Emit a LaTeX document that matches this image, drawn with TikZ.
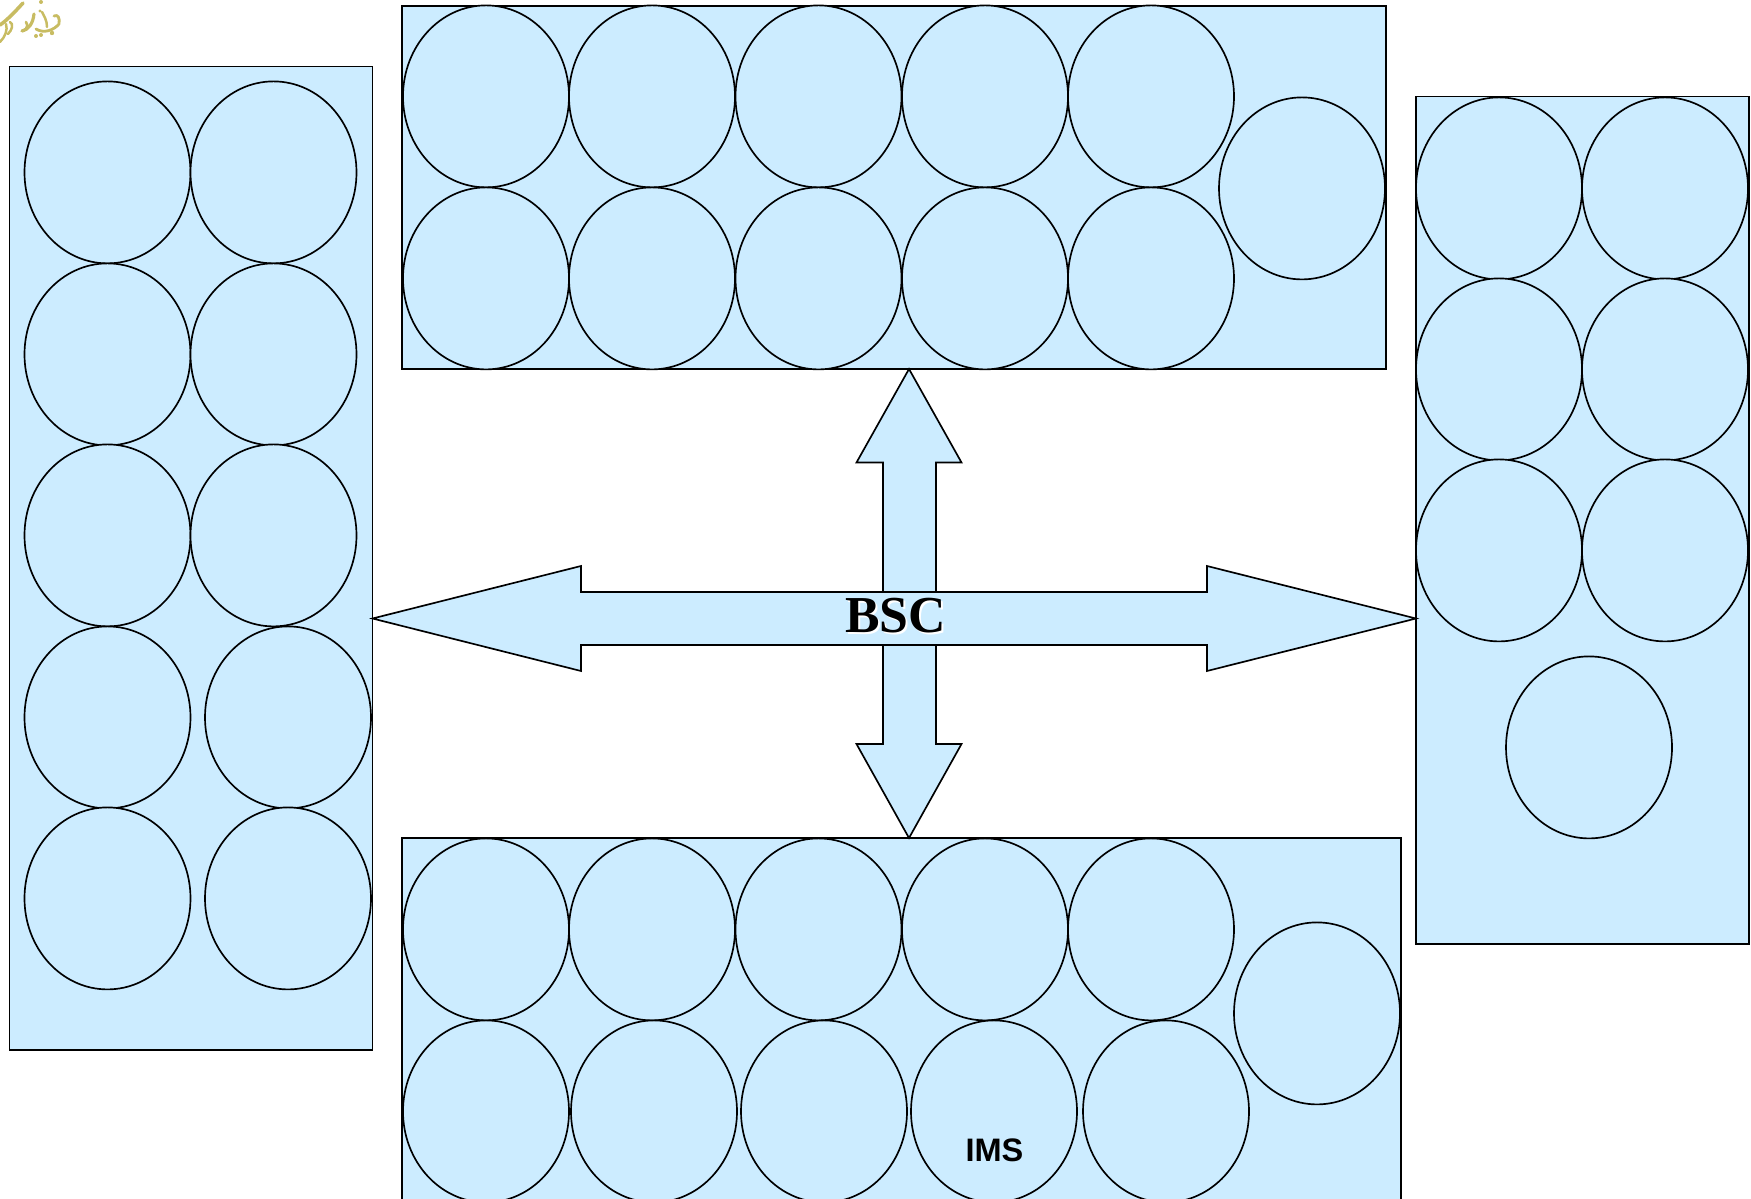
\documentclass[tikz,border=0pt]{standalone}
\usepackage{fontspec}
\setmainfont{Liberation Serif}
\setsansfont{Liberation Sans}
\usetikzlibrary{shapes.geometric}
\definecolor{panelblue}{HTML}{CCECFF}
\definecolor{logogold}{HTML}{C8BC62}
\tikzset{
  x=0.02cm,y=-0.02cm,
  outline/.style={draw=black,line width=0.95pt,line join=miter},
  panel/.style={outline,fill=panelblue},
  cell/.style={ellipse,outline,fill=panelblue,minimum width=166*0.02cm,minimum height=182*0.02cm,inner sep=0pt,outer sep=0pt,yshift=-0.008cm},
  logostroke/.style={draw=logogold,line width=1.1pt,line cap=round,line join=round}
}
\begin{document}
\begin{tikzpicture}
\clip (0,0) rectangle (1751,1199);
\fill[white] (0,0) rectangle (1751,1199);
% logo
\draw[logostroke,line width=2pt] (0,25) .. controls (6,21) and (14,13) .. (23,3);
\draw[logostroke,line width=1.4pt] (0,42) .. controls (5,37) and (8,30) .. (6,24);
\draw[logostroke,line width=1.4pt] (10,22) .. controls (14,24) and (12,30) .. (8,34);
\draw[logostroke,line width=1.8pt] (22,31) .. controls (28,30) and (33,24) .. (34,14);
\draw[logostroke,line width=1.5pt] (26,22) .. controls (30,26) and (24,32) .. (22,31);
\draw[logostroke,line width=1.6pt] (36,29) .. controls (44,34) and (54,30) .. (59,24) .. controls (60,18) and (58,14) .. (54,16);
\draw[logostroke,line width=1.4pt] (47,27) .. controls (47,20) and (44,16) .. (42,12);
\fill[logogold] (36,36) circle (2) (41,35) circle (2) (52,33) circle (2.2) (41,2) circle (2) (40,11) circle (1.6);
% left panel
\draw[panel] (9.5,66.5) rectangle (372.5,1050);
\foreach \n/\px/\py in {la/107.5/172,lb/273.5/172,lc/107.5/354,ld/273.5/354,le/107.5/535,lf/273.5/535,lg/107.5/717,lh/288/717,li/107.5/898,lj/288/898}
  \node[cell] (\n) at (\px,\py) {};
% top panel
\draw[panel] (402,6) rectangle (1386,369);
\foreach \n/\px/\py in {ta/486/96,tb/652/96,tc/818.5/96,td/985/96,te/1151/96,tf/486/278,tg/652/278,th/818.5/278,ti/985/278,tj/1151/278,tk/1302/188}
  \node[cell] (\n) at (\px,\py) {};
% right panel
\draw[panel] (1416,96.5) rectangle (1749,944);
\foreach \n/\px/\py in {ra/1499/188,rb/1665/188,rc/1499/369,rd/1665/369,re/1499/550,rf/1665/550,rg/1589/747}
  \node[cell] (\n) at (\px,\py) {};
% bottom panel
\draw[panel] (402,838) rectangle (1400.8,1230);
\foreach \n/\px/\py in {ba/486/929,bb/652/929,bc/818.5/929,bd/985/929,be/1151/929,bf/486/1111,bg/654/1111,bh/824/1111,bi/994/1111,bj/1166/1111,bk/1317/1013}
  \node[cell] (\n) at (\px,\py) {};
\node[font=\sffamily\bfseries,text=black,inner sep=0pt] (ims) at (994.5,1150) {\fontsize{18.5pt}{18.5pt}\selectfont IMS};
% vertical double arrow
\draw[panel] (909,369) -- (961.5,462.5) -- (936,462.5) -- (936,744) -- (961.5,744) -- (909,838) -- (856.5,744) -- (883,744) -- (883,462.5) -- (856.5,462.5) -- cycle;
% horizontal double arrow
\draw[panel] (372.5,618.5) -- (581,566) -- (581,592) -- (1207,592) -- (1207,566) -- (1416,618.5) -- (1207,671) -- (1207,645) -- (581,645) -- (581,671) -- cycle;
\node[font=\bfseries,text=white,inner sep=0pt] at (897.5,617.5) {\fontsize{29.5pt}{29.5pt}\selectfont BSC};
\node[font=\bfseries,text=black,inner sep=0pt] (bsc) at (895.5,616) {\fontsize{29.5pt}{29.5pt}\selectfont BSC};
\end{tikzpicture}
\end{document}
